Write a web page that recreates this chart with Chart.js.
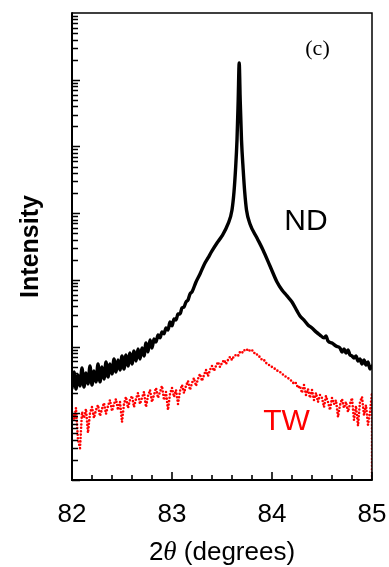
<!DOCTYPE html>
<html>
<head>
<meta charset="utf-8">
<title>XRD profile (c)</title>
<script src="https://cdn.jsdelivr.net/npm/chart.js@4.4.1/dist/chart.umd.min.js"></script>
<style>
  html, body { margin: 0; padding: 0; background: #fff; }
  #wrap { width: 389px; height: 567px; }
</style>
</head>
<body>
<div id="wrap"><canvas id="chart"></canvas></div>
<script>
// ---- Data ----

// ND: solid black profile, sharp peak near 83.67 deg
const ndAngle = [
  82.00, 82.02, 82.04, 82.06, 82.08, 82.10, 82.12, 82.14, 82.16, 82.18,
  82.20, 82.22, 82.24, 82.26, 82.28, 82.30, 82.32, 82.34, 82.36, 82.38,
  82.40, 82.42, 82.44, 82.46, 82.48, 82.50, 82.52, 82.54, 82.56, 82.58,
  82.60, 82.62, 82.64, 82.66, 82.68, 82.70, 82.72, 82.74, 82.76, 82.78,
  82.80, 82.82, 82.84, 82.86, 82.88, 82.90, 82.92, 82.94, 82.96, 82.98,
  83.00, 83.02, 83.04, 83.06, 83.08, 83.10, 83.12, 83.14, 83.16, 83.18,
  83.20, 83.24, 83.28, 83.32, 83.36, 83.40, 83.45, 83.50, 83.56, 83.60,
  83.62, 83.635, 83.65, 83.662, 83.672, 83.682, 83.695, 83.712, 83.727, 83.745,
  83.78, 83.85, 83.91, 83.98, 84.05, 84.10, 84.15, 84.20, 84.25, 84.28,
  84.32, 84.36, 84.40, 84.44, 84.48, 84.52, 84.54, 84.56, 84.60, 84.64,
  84.68, 84.70, 84.72, 84.74, 84.76, 84.78, 84.80, 84.82, 84.84, 84.86,
  84.88, 84.90, 84.92, 84.94, 84.96, 84.98, 85.00
];
const ndIntensity = [
  24.0, 41.6, 23.1, 37.5, 25.7, 47.8, 24.8, 40.2, 27.5, 51.2,
  26.6, 43.1, 29.5, 54.9, 29.5, 49.5, 32.7, 58.8, 35.0, 54.9,
  38.8, 65.2, 41.6, 63.0, 44.6, 72.3, 46.2, 74.8, 51.2, 80.2,
  54.9, 85.9, 60.8, 92.1, 65.2, 95.3, 72.3, 113, 83.0, 126,
  95.3, 130, 117, 149, 135, 166, 155, 190, 177, 234,
  204, 259, 250, 308, 308, 379, 392, 466, 500, 615,
  659, 930, 1226, 1673, 2130, 2713, 3574, 4552, 6888, 11170,
  20790, 44430, 125200, 498000, 1786000, 498000, 125200, 44430, 20790, 11170,
  6888, 4248, 2807, 1616, 930, 706, 574, 466, 342, 288,
  250, 211, 190, 166, 149, 135, 144, 121, 113, 102,
  95.3, 83.0, 92.1, 80.2, 88.9, 74.8, 72.3, 67.5, 72.3, 60.8,
  65.2, 54.9, 63.0, 53.0, 58.8, 46.2, 51.2
];

// TW: red dotted profile, broad hump near 83.77 deg, drops off at 85
const twAngle = [
  82.00, 82.02, 82.04, 82.06, 82.08, 82.10, 82.12, 82.14, 82.16, 82.18,
  82.20, 82.22, 82.24, 82.26, 82.28, 82.30, 82.32, 82.34, 82.36, 82.38,
  82.40, 82.42, 82.44, 82.46, 82.48, 82.50, 82.52, 82.54, 82.56, 82.58,
  82.60, 82.62, 82.64, 82.66, 82.68, 82.70, 82.72, 82.74, 82.76, 82.78,
  82.80, 82.82, 82.84, 82.86, 82.88, 82.90, 82.92, 82.94, 82.96, 82.98,
  83.00, 83.02, 83.04, 83.06, 83.08, 83.10, 83.12, 83.14, 83.16, 83.18,
  83.20, 83.22, 83.24, 83.26, 83.28, 83.30, 83.32, 83.34, 83.36, 83.38,
  83.40, 83.42, 83.44, 83.46, 83.48, 83.50, 83.52, 83.54, 83.56, 83.58,
  83.60, 83.62, 83.64, 83.66, 83.68, 83.70, 83.72, 83.74, 83.76, 83.78,
  83.80, 83.82, 83.84, 83.86, 83.88, 83.90, 83.92, 83.94, 83.96, 83.98,
  84.00, 84.02, 84.04, 84.06, 84.08, 84.10, 84.12, 84.14, 84.16, 84.18,
  84.20, 84.22, 84.24, 84.26, 84.28, 84.30, 84.32, 84.34, 84.36, 84.38,
  84.40, 84.42, 84.44, 84.46, 84.48, 84.50, 84.52, 84.54, 84.56, 84.58,
  84.60, 84.62, 84.64, 84.66, 84.68, 84.70, 84.72, 84.74, 84.76, 84.78,
  84.80, 84.82, 84.84, 84.86, 84.88, 84.90, 84.92, 84.94, 84.96, 84.98,
  85.00, 85.00
];
const twIntensity = [
  10.5, 7.9, 12.0, 4.0, 3.0, 10.5, 8.5, 11.6, 5.1, 10.1,
  12.4, 8.5, 11.2, 13.3, 9.1, 11.6, 14.3, 9.8, 12.9, 15.8,
  10.8, 13.8, 16.4, 11.2, 14.8, 7.4, 13.8, 17.6, 12.0, 15.8,
  18.2, 12.4, 16.4, 20.2, 13.8, 17.0, 20.9, 12.4, 18.2, 22.4,
  14.8, 18.8, 24.0, 17.0, 20.9, 25.7, 15.8, 20.9, 11.2, 19.5,
  24.0, 17.6, 22.4, 13.8, 21.6, 26.6, 20.2, 25.7, 30.5, 22.4,
  28.5, 33.8, 25.7, 32.7, 38.8, 30.5, 37.5, 44.6, 36.2, 44.6,
  51.2, 43.1, 51.2, 58.8, 49.5, 56.8, 63.0, 54.9, 63.0, 69.9,
  63.0, 72.3, 74.8, 72.3, 83.0, 80.2, 88.9, 85.9, 92.1, 85.9,
  88.9, 80.2, 80.2, 72.3, 69.9, 63.0, 63.0, 56.8, 54.9, 51.2,
  49.5, 47.8, 44.6, 43.1, 41.6, 38.8, 37.5, 35.0, 33.8, 31.6,
  30.5, 27.5, 28.5, 24.0, 25.7, 20.2, 26.6, 18.8, 23.1, 17.0,
  22.4, 15.8, 20.2, 14.8, 18.8, 17.0, 12.4, 18.2, 14.8, 11.2,
  17.0, 13.8, 15.8, 8.8, 13.3, 16.4, 12.0, 14.8, 10.5, 13.8,
  17.0, 7.9, 12.9, 6.5, 14.8, 17.6, 9.4, 13.3, 6.7, 10.5,
  20.2, 0.5
];

const xTicks = [82, 83, 84, 85];
const seriesNames = ['ND', 'TW'];
const panelLabel = '(c)';

// ---- Styling / placement (not data) ----

const SANS = '"Liberation Sans", Arial, Helvetica, sans-serif';
const SERIF = '"Liberation Serif", "Times New Roman", serif';
const RED = '#ff0000';

// annotation anchors in data space
const notes = [
  { text: seriesNames[0], x: 84.34, y: 7400, color: '#000', font: `30px ${SANS}` },
  { text: seriesNames[1], x: 84.145, y: 7.5, color: RED, font: `30px ${SANS}` },
  { text: panelLabel, x: 84.455, y: 2.9e6, color: '#000', font: `22px ${SERIF}` },
];

function toPoints(xs, ys) {
  return xs.map((x, i) => ({ x, y: ys[i] }));
}

// ---- Frame, inward ticks, tick labels, annotations, x title ----

const decorations = {
  id: 'decorations',
  afterDraw(chart) {
    const { ctx, chartArea: a, scales: { x, y } } = chart;
    ctx.save();
    ctx.strokeStyle = '#000';

    // thin top/right frame
    ctx.lineWidth = 1.5;
    ctx.beginPath();
    ctx.moveTo(a.left, a.top);
    ctx.lineTo(a.right, a.top);
    ctx.lineTo(a.right, a.bottom);
    ctx.stroke();

    // heavier left/bottom axes
    ctx.lineWidth = 2;
    ctx.beginPath();
    ctx.moveTo(a.left, a.top - 0.75);
    ctx.lineTo(a.left, a.bottom);
    ctx.lineTo(a.right + 0.75, a.bottom);
    ctx.stroke();

    // x ticks every 0.2, pointing up
    ctx.lineWidth = 1.6;
    ctx.beginPath();
    for (let i = 0; i <= 15; i++) {
      const px = Math.round(x.getPixelForValue(82 + i * 0.2));
      const len = i % 5 === 0 ? 8 : 5;
      ctx.moveTo(px, a.bottom);
      ctx.lineTo(px, a.bottom - len);
    }
    ctx.stroke();

    // log y ticks, pointing right
    ctx.beginPath();
    for (let k = 0; k < 7; k++) {
      for (let m = 1; m <= 9; m++) {
        const py = Math.round(y.getPixelForValue(m * Math.pow(10, k))) + 0.5;
        const len = m === 1 ? 8 : 6;
        ctx.moveTo(a.left, py);
        ctx.lineTo(a.left + len, py);
      }
    }
    ctx.stroke();

    // x tick labels
    ctx.fillStyle = '#000';
    ctx.font = `26px ${SANS}`;
    ctx.textAlign = 'center';
    ctx.textBaseline = 'alphabetic';
    xTicks.forEach(v => ctx.fillText(String(v), x.getPixelForValue(v), a.bottom + 41.5));

    // in-plot text
    ctx.textBaseline = 'middle';
    notes.forEach(n => {
      ctx.fillStyle = n.color;
      ctx.font = n.font;
      ctx.fillText(n.text, x.getPixelForValue(n.x), y.getPixelForValue(n.y));
    });

    // x title with italic theta
    const parts = [
      { t: '2', f: `26px ${SANS}` },
      { t: '\u03b8', f: `italic 27px ${SERIF}` },
      { t: ' (degrees)', f: `26px ${SANS}` },
    ];
    let total = 0;
    parts.forEach(p => { ctx.font = p.f; p.w = ctx.measureText(p.t).width; total += p.w; });
    let cx = (a.left + a.right) / 2 - total / 2;
    const base = a.bottom + 80;
    ctx.textAlign = 'left';
    ctx.textBaseline = 'alphabetic';
    ctx.fillStyle = '#000';
    parts.forEach(p => { ctx.font = p.f; ctx.fillText(p.t, cx, base); cx += p.w; });

    ctx.restore();
  }
};

new Chart(document.getElementById('chart'), {
  type: 'line',
  data: {
    datasets: [
      {
        label: seriesNames[0],
        data: toPoints(ndAngle, ndIntensity),
        borderColor: '#000',
        borderWidth: 3.4,
        pointRadius: 0,
        cubicInterpolationMode: 'monotone',
        borderJoinStyle: 'round',
        borderCapStyle: 'round',
        fill: false,
      },
      {
        label: seriesNames[1],
        data: toPoints(twAngle, twIntensity),
        borderColor: RED,
        borderWidth: 2.6,
        borderDash: [0, 3.4],
        borderCapStyle: 'round',
        pointRadius: 0,
        tension: 0,
        fill: false,
      },
    ],
  },
  options: {
    responsive: true,
    maintainAspectRatio: false,
    animation: false,
    events: [],
    layout: { padding: { top: 13, right: 17, left: 0, bottom: 0 } },
    plugins: { legend: { display: false }, tooltip: { enabled: false } },
    scales: {
      x: {
        type: 'linear',
        min: 82,
        max: 85,
        grid: { display: false, drawTicks: false },
        border: { display: false },
        ticks: { display: false },
        afterFit: s => { s.height = 87; },
      },
      y: {
        type: 'logarithmic',
        min: 1,
        max: 1e7,
        grid: { display: false, drawTicks: false },
        border: { display: false },
        ticks: { display: false },
        title: {
          display: true,
          text: 'Intensity',
          color: '#000',
          font: { family: SANS, size: 25, weight: 'bold' },
          padding: { top: 16, bottom: 0 },
        },
        afterFit: s => { s.width = 72; },
      },
    },
  },
  plugins: [decorations],
});
</script>
</body>
</html>
